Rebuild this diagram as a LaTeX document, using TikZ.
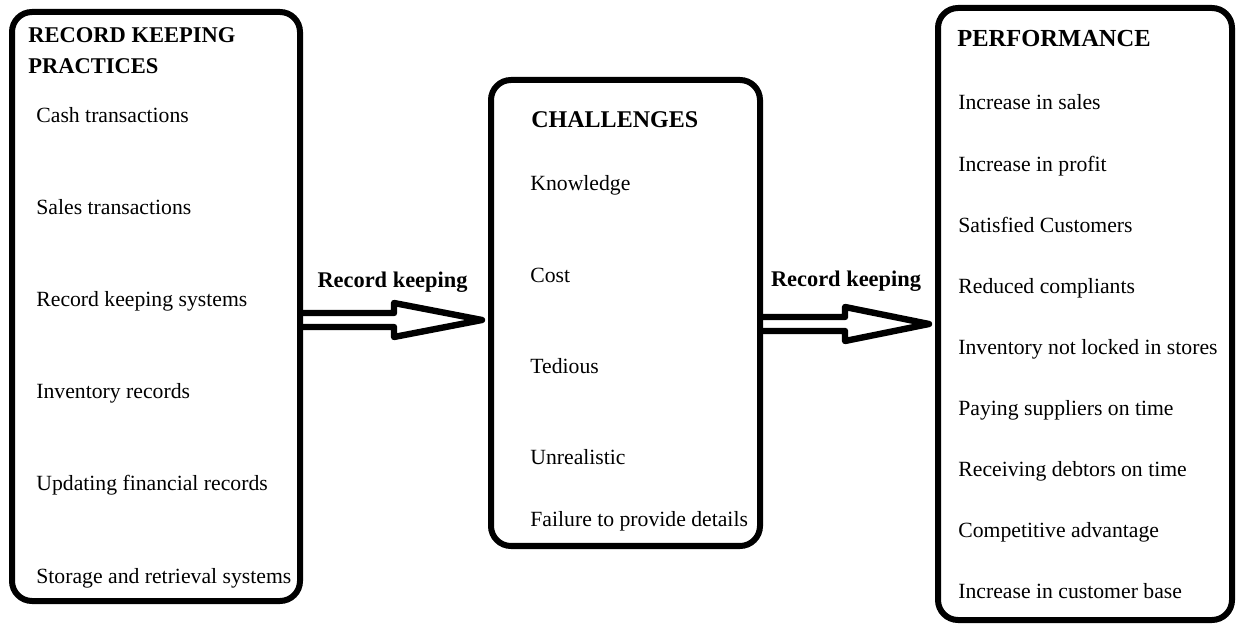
\documentclass[tikz,border=0pt]{standalone}
\usepackage{fontspec}
\setmainfont{Liberation Serif}
\usetikzlibrary{calc,fit}

\begin{document}
\begin{tikzpicture}[
  x=0.5pt, y=-0.5pt,
  panel/.style={draw, line width=3pt, rounded corners=10pt, inner sep=0pt},
  head/.style={anchor=base west, inner sep=0pt, align=left, font=\fontsize{12}{15.65}\selectfont\bfseries},
  item/.style={anchor=base west, inner sep=0pt, font=\fontsize{10.85}{13}\selectfont},
  lbl/.style={anchor=base, inner sep=0pt, font=\fontsize{11.2}{13}\selectfont\bfseries},
  hollow/.style={line width=3.2pt, line join=round}]
  \useasboundingbox (0,0) rectangle (1236,624);
  % the three frames
  \node[panel, fit={(12,12) (300,601)}] (prac) {};
  \node[panel, fit={(491,80) (760,546)}] (chal) {};
  \node[panel, fit={(938,8) (1232,620)}] (perf) {};
  % headings (base of a two-line node sits on its last line)
  \node[head, font=\fontsize{11.25}{15.65}\selectfont\bfseries] (pracT) at (28,74) {RECORD KEEPING\\PRACTICES};
  \node[head] (chalT) at (531,128) {CHALLENGES};
  \node[head, font=\fontsize{12.25}{15.65}\selectfont\bfseries] (perfT) at (957,47) {PERFORMANCE};
  % items
  \foreach \txt [count=\i] in {Cash transactions, Sales transactions, Record keeping systems,
      Inventory records, Updating financial records, Storage and retrieval systems}
    \node[item] (prac\i) at (36,{123+92*(\i-1)}) {\txt};
  \foreach \txt/\yy [count=\i] in {Knowledge/191, Cost/283, Tedious/374, Unrealistic/465,
      Failure to provide details/527}
    \node[item] (chal\i) at (530,\yy) {\txt};
  \foreach \txt [count=\i] in {Increase in sales, Increase in profit, Satisfied Customers,
      Reduced compliants, Inventory not locked in stores, Paying suppliers on time,
      Receiving debtors on time, Competitive advantage, Increase in customer base}
    \node[item] (perf\i) at (958,{110+61.1*(\i-1)}) {\txt};
  % hollow arrows between frames
  \coordinate (k1s) at (prac.east |- 0,320);
  \coordinate (k1t) at ([xshift=-3pt]chal.west |- 0,320);
  \coordinate (k2s) at (chal.east |- 0,324);
  \coordinate (k2t) at ([xshift=-3pt]perf.west |- 0,324);
  \draw[hollow] ($(k1s)+(0,-7)$) -- ($(k1t)+(-88,-7)$) -- ($(k1t)+(-88,-17)$) -- (k1t)
    -- ($(k1t)+(-88,17)$) -- ($(k1t)+(-88,7)$) -- ($(k1s)+(0,7)$);
  \draw[hollow] ($(k2s)+(0,-7)$) -- ($(k2t)+(-84,-7)$) -- ($(k2t)+(-84,-17)$) -- (k2t)
    -- ($(k2t)+(-84,17)$) -- ($(k2t)+(-84,7)$) -- ($(k2s)+(0,7)$);
  \node[lbl] (k1lab) at ([yshift=16pt]$(k1s)!.5!(k1t)$) {Record keeping};
  \node[lbl] (k2lab) at ([yshift=18.5pt]$(k2s)!.5!(k2t)$) {Record keeping};
\end{tikzpicture}
\end{document}
